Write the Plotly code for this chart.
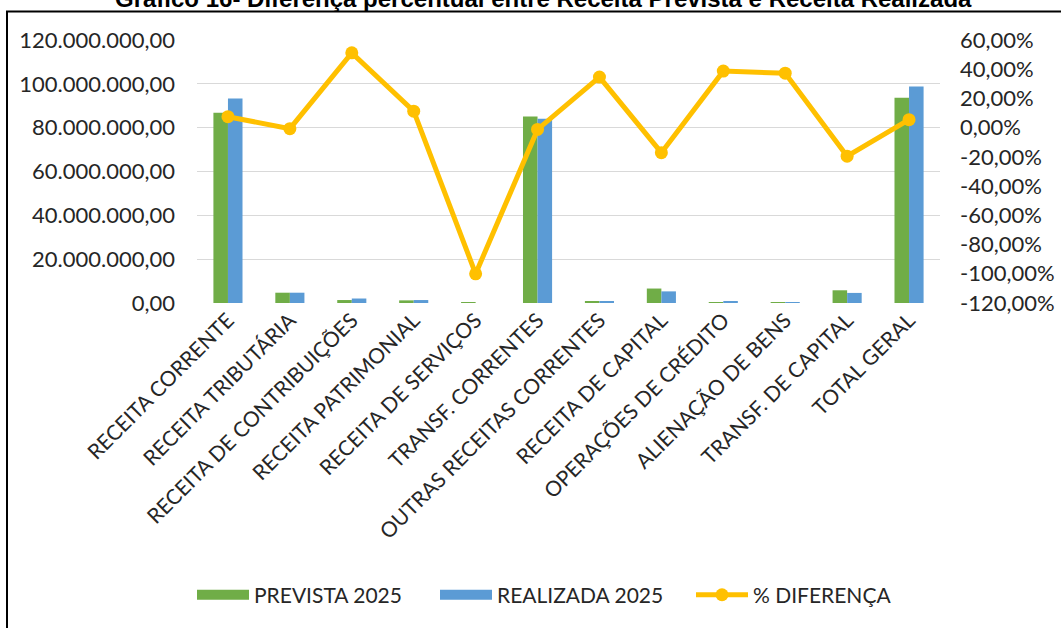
import plotly.graph_objects as go

categories = [
    "RECEITA CORRENTE", "RECEITA TRIBUTÁRIA", "RECEITA DE CONTRIBUIÇÕES",
    "RECEITA PATRIMONIAL", "RECEITA DE SERVIÇOS", "TRANSF. CORRENTES",
    "OUTRAS RECEITAS CORRENTES", "RECEITA DE CAPITAL", "OPERAÇÕES DE CRÉDITO",
    "ALIENAÇÃO DE BENS", "TRANSF. DE CAPITAL", "TOTAL GERAL",
]
prevista_2025 = [86.8e6, 4.7e6, 1.35e6, 1.2e6, 0.03e6, 85.1e6, 0.6e6, 6.6e6, 0.45e6, 0.02e6, 5.8e6, 93.7e6]
realizada_2025 = [93.3e6, 4.7e6, 2.05e6, 1.35e6, 0.0, 84.1e6, 0.8e6, 5.3e6, 0.62e6, 0.03e6, 4.6e6, 98.8e6]
pct_diferenca = [0.075, -0.007, 0.512, 0.113, -1.0, -0.012, 0.346, -0.171, 0.387, 0.373, -0.195, 0.055]

left_tickvals = [0, 20e6, 40e6, 60e6, 80e6, 100e6, 120e6]
left_ticktext = ["0,00", "20.000.000,00", "40.000.000,00", "60.000.000,00",
                 "80.000.000,00", "100.000.000,00", "120.000.000,00"]
right_tickvals = [-1.2, -1.0, -0.8, -0.6, -0.4, -0.2, 0.0, 0.2, 0.4, 0.6]
right_ticktext = ["-120,00%", "-100,00%", "-80,00%", "-60,00%", "-40,00%",
                  "-20,00%", "0,00%", "20,00%", "40,00%", "60,00%"]

title_text = "Gráfico 16- Diferença percentual entre Receita Prevista e Receita Realizada"

GREEN = "#70AD47"
BLUE = "#5B9BD5"
GOLD = "#FFC000"
FONT = "Lato"
TXT = "#262626"

W, H = 1061, 628
# plot area in page pixels
SX0, SX1, SY0, SY1 = 197, 940, 39.5, 302.7
L = SX0
R = W - SX1
T = SY0
B = H - SY1
pw = W - L - R
ph = H - T - B


def px_x(xs):
    return (xs - SX0) / pw


def px_y(ys):
    return (SY1 - ys) / ph


fig = go.Figure()
fig.add_trace(go.Bar(x=categories, y=prevista_2025, name="PREVISTA 2025",
                     marker_color=GREEN, showlegend=False))
fig.add_trace(go.Bar(x=categories, y=realizada_2025, name="REALIZADA 2025",
                     marker_color=BLUE, showlegend=False))
fig.add_trace(go.Scatter(x=categories, y=pct_diferenca, name="% DIFERENÇA", yaxis="y2",
                         mode="lines+markers", line=dict(color=GOLD, width=5),
                         marker=dict(color=GOLD, size=13), showlegend=False))
# legend entries
fig.add_trace(go.Scatter(x=[None], y=[None], name="PREVISTA 2025", mode="lines",
                         line=dict(color=GREEN, width=14), legend="legend"))
fig.add_trace(go.Scatter(x=[None], y=[None], name="REALIZADA 2025", mode="lines",
                         line=dict(color=BLUE, width=14), legend="legend2"))
fig.add_trace(go.Scatter(x=[None], y=[None], name="% DIFERENÇA", mode="lines+markers",
                         line=dict(color=GOLD, width=5), marker=dict(color=GOLD, size=13),
                         legend="legend3"))

leg_common = dict(orientation="h", yanchor="middle", y=px_y(595), xanchor="left",
                  font=dict(family=FONT, size=21, color=TXT), itemwidth=52,
                  bgcolor="rgba(0,0,0,0)", borderwidth=0)

fig.update_layout(
    width=W, height=H,
    margin=dict(l=L, r=R, t=T, b=B, pad=0, autoexpand=False),
    template="none",
    paper_bgcolor="white", plot_bgcolor="white",
    font=dict(family=FONT, size=21, color=TXT),
    barmode="group", bargap=0.53, bargroupgap=0,
    showlegend=True,
    legend=dict(x=px_x(192), **leg_common),
    legend2=dict(x=px_x(435), **leg_common),
    legend3=dict(x=px_x(691), **leg_common),
    xaxis=dict(range=[-0.5, len(categories) - 0.5], tickangle=-45, showgrid=False,
               showline=False, ticks="", automargin=False, zeroline=False,
               tickfont=dict(family=FONT, size=21, color=TXT)),
    yaxis=dict(range=[0, 120e6], tickvals=left_tickvals, ticktext=left_ticktext,
               showgrid=True, gridcolor="#D9D9D9", gridwidth=1.3, automargin=False,
               zeroline=False, showline=False, ticks="", ticklabelstandoff=21,
               tickfont=dict(family=FONT, size=22, color=TXT)),
    yaxis2=dict(range=[-1.2, 0.6], tickvals=right_tickvals, ticktext=right_ticktext,
                overlaying="y", side="right", showgrid=False, zeroline=False, automargin=False,
                showline=False, ticks="", ticklabelstandoff=19,
                tickfont=dict(family=FONT, size=22, color=TXT)),
    shapes=[dict(type="rect", xref="paper", yref="paper",
                 x0=px_x(7), x1=px_x(1100), y0=px_y(11), y1=px_y(700),
                 line=dict(color="black", width=2), fillcolor="rgba(0,0,0,0)", layer="below")],
    annotations=[dict(text="<b>" + title_text + "</b>", xref="paper", yref="paper",
                      x=px_x(543), y=px_y(-2), xanchor="center", yanchor="middle",
                      showarrow=False, borderpad=0,
                      font=dict(family="Liberation Sans", size=24, color="black"))],
)

fig.write_html("out.html", config={"displayModeBar": False},
               post_script="document.body.style.margin='0px';")
